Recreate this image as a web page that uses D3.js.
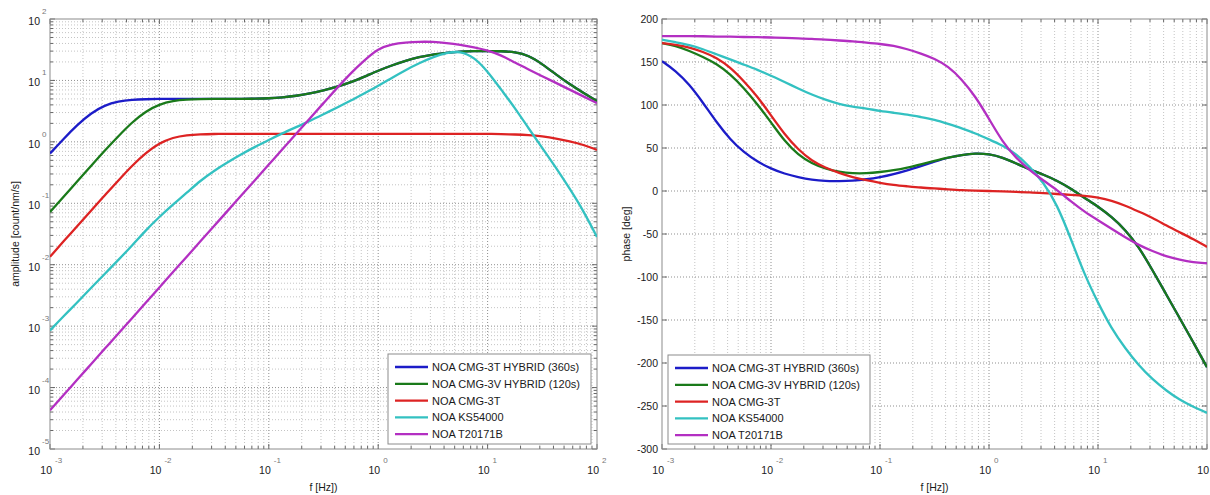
<!DOCTYPE html>
<meta charset="utf-8">
<style>
  body { margin: 0; background: #fff; }
  svg { display: block; font-family: "Liberation Sans", Arial, sans-serif; }
  .frame { fill: none; stroke: #8c8c8c; stroke-width: 1; }
  .gmajor { stroke: #8f8f8f; stroke-width: 1; stroke-dasharray: 1,2; }
  .gminor { stroke: #c4c4c4; stroke-width: 1; stroke-dasharray: 1,2; }
  .tick { stroke: #666; stroke-width: 1; }
  .tl { font-size: 10.5px; fill: #1a1a1a; }
  .ex { font-size: 8px; fill: #777; }
  .title { font-size: 10.5px; fill: #1a1a1a; }
  .legtext { font-size: 11px; fill: #1a1a1a; }
  .curve { fill: none; stroke-width: 2.3; stroke-linejoin: round; }
</style>
<svg width="1210" height="495"></svg>
<script src="https://cdn.jsdelivr.net/npm/d3@7"></script>
<script>

// frequency grid (Hz), 1/8 decade steps
var freq = [0.001, 0.00133, 0.00178, 0.00237, 0.00316, 0.00422, 0.00562, 0.0075,
  0.01, 0.0133, 0.0178, 0.0237, 0.0316, 0.0422, 0.0562, 0.075,
  0.1, 0.133, 0.178, 0.237, 0.316, 0.422, 0.562, 0.75,
  1, 1.33, 1.78, 2.37, 3.16, 4.22, 5.62, 7.5,
  10, 13.3, 17.8, 23.7, 31.6, 42.2, 56.2, 75, 100];

var names = ["NOA CMG-3T HYBRID (360s)", "NOA CMG-3V HYBRID (120s)", "NOA CMG-3T", "NOA KS54000", "NOA T20171B"];
var colors = ["#1c1cc8", "#1a7a1a", "#dd2323", "#33c1c1", "#b32fc2"];

// amplitude [count/nm/s]
var ampBlue = [0.645, 1.12, 1.9, 2.94, 3.95, 4.58, 4.85, 4.95, 5.0, 5.0, 5.0, 5.0,
  5.0, 5.0, 5.0, 5.05, 5.1, 5.3, 5.6, 6.1, 6.9, 7.9, 9.3, 11.5, 14.5, 17.5, 21, 24, 26.5, 28, 29.5,
  30, 30, 30, 29, 25.5, 18.5, 12.5, 8.7, 6.3, 4.6];
var ampGreen = [0.072, 0.128, 0.228, 0.405, 0.72, 1.24, 2.08, 3.15, 4.1, 4.65, 4.88, 4.95,
  5.0, 5.0, 5.0, 5.05, 5.1, 5.3, 5.6, 6.1, 6.9, 7.9, 9.3, 11.5, 14.5, 17.5, 21, 24, 26.5, 28, 29.5,
  30, 30, 30, 29, 25.5, 18.5, 12.5, 8.7, 6.3, 4.6];
var ampRed = [0.0135, 0.024, 0.0427, 0.076, 0.134, 0.236, 0.41, 0.66, 0.955, 1.18, 1.29, 1.33, 1.345,
  1.35, 1.35, 1.35, 1.35, 1.35, 1.35, 1.35, 1.35, 1.35, 1.35, 1.35, 1.35, 1.35, 1.35, 1.35, 1.35, 1.35, 1.35, 1.35, 1.35,
  1.34, 1.32, 1.29, 1.23, 1.14, 1.02, 0.9, 0.74];
var ampCyan = [0.00085, 0.00145, 0.00245, 0.00417, 0.00708, 0.012, 0.0204, 0.0363, 0.0603, 0.0955,
  0.148, 0.234, 0.339, 0.468, 0.631, 0.832, 1.07, 1.38, 1.74, 2.19, 2.82, 3.63, 4.68, 6.17, 8.13,
  11.0, 14.8, 19.1, 24.0, 28.2, 30.2, 24.0, 14.1, 7.08, 3.55, 1.66, 0.794, 0.38, 0.174, 0.0759, 0.0282];
var ampMagenta = [4.27e-5, 7.59e-5, 1.35e-4, 2.40e-4, 4.27e-4, 7.59e-4, 1.35e-3, 2.40e-3, 4.27e-3, 7.59e-3,
  0.0135, 0.024, 0.0427, 0.0759, 0.135, 0.24, 0.427, 0.759, 1.35, 2.4,
  4.27, 7.59, 13.2, 21.4, 33.1, 38.9, 41.7, 42.7, 42.7, 40.7,
  38.0, 34.7, 30.9, 25.7, 19.5, 15.1, 11.7, 9.12, 7.08, 5.5, 4.27];

// phase [deg]
var phBlue = [151, 140, 124, 103, 80, 60, 45, 34, 26, 20, 16, 13, 11.5, 11.5, 12, 13.5, 16, 19.5, 24, 29, 34,
  39, 42, 44, 43, 39, 32, 25, 19, 12, 3, -8, -18, -30, -45, -65, -92, -120, -148, -176, -205];
var phGreen = [172, 169, 163, 156, 148, 136, 120, 101, 80, 58, 42, 32, 26, 22, 20.5, 20.5, 22, 24, 27, 31,
  35, 39, 42, 44, 43, 39, 32, 25, 19, 12, 3, -8, -18, -30, -45, -65, -92, -120, -148, -176, -205];
var phRed = [172, 170, 167, 162, 155, 144, 128, 110, 88, 66, 48, 35, 27, 21, 16, 12.5, 9.5, 7, 5.5, 4,
  3, 2, 1, 0.5, 0, -0.5, -1, -1.5, -2.5, -3.5, -4.5, -5.5, -7.5, -11, -17, -24, -31, -40, -48, -56, -65];
var phCyan = [176, 173, 170, 165, 159, 153, 147, 141, 134, 127, 119, 112, 106, 101, 98, 96, 93, 91, 89, 86,
  83, 78, 73, 67, 60, 53, 43, 28, 10, -16, -55, -97, -130, -160, -183, -203, -219, -232, -243, -251, -258];
var phMagenta = [180, 180, 180, 180, 179.5, 179.5, 179, 179, 178.5, 178, 177.5, 177, 176, 175, 174, 172.5, 171, 169, 165, 160,
  154, 145, 130, 110, 84, 57, 38, 24, 12, 1, -12, -24, -34, -44, -54, -63, -70, -76, -80, -83, -84];

var ampSeries = [ampBlue, ampGreen, ampRed, ampCyan, ampMagenta];
var phSeries = [phBlue, phGreen, phRed, phCyan, phMagenta];
var phTicks = [200, 150, 100, 50, 0, -50, -100, -150, -200, -250, -300];

var svg = d3.select("svg");
var defs = svg.append("defs");

function isDecade(v) {
  var l = Math.log10(v);
  return Math.abs(l - Math.round(l)) < 1e-6;
}

function panel(id, left, right, top, bottom, y, yIsLog, series, yTicks) {
  var g = svg.append("g");
  var x = d3.scaleLog().domain([1e-3, 1e2]).range([left, right]);

  defs.append("clipPath").attr("id", id)
    .append("rect").attr("x", left).attr("y", top)
    .attr("width", right - left).attr("height", bottom - top);

  // vertical grid
  x.ticks().forEach(function (v) {
    if (v <= 1e-3 || v >= 1e2) return;
    g.append("line").attr("class", isDecade(v) ? "gmajor" : "gminor")
      .attr("x1", x(v)).attr("x2", x(v)).attr("y1", top).attr("y2", bottom);
  });
  // horizontal grid
  yTicks.forEach(function (v) {
    var yy = y(v);
    if (Math.abs(yy - top) < 0.5 || Math.abs(yy - bottom) < 0.5) return;
    g.append("line").attr("class", (!yIsLog || isDecade(v)) ? "gmajor" : "gminor")
      .attr("x1", left).attr("x2", right).attr("y1", yy).attr("y2", yy);
  });

  // tick marks on all sides
  x.ticks().forEach(function (v) {
    var len = isDecade(v) ? 5 : 3, xx = x(v);
    g.append("line").attr("class", "tick").attr("x1", xx).attr("x2", xx).attr("y1", bottom).attr("y2", bottom - len);
    g.append("line").attr("class", "tick").attr("x1", xx).attr("x2", xx).attr("y1", top).attr("y2", top + len);
  });
  yTicks.forEach(function (v) {
    var len = (!yIsLog || isDecade(v)) ? 5 : 3, yy = y(v);
    g.append("line").attr("class", "tick").attr("x1", left).attr("x2", left + len).attr("y1", yy).attr("y2", yy);
    g.append("line").attr("class", "tick").attr("x1", right).attr("x2", right - len).attr("y1", yy).attr("y2", yy);
  });

  g.append("rect").attr("class", "frame")
    .attr("x", left).attr("y", top).attr("width", right - left).attr("height", bottom - top);

  // x tick labels 10^n
  x.ticks().filter(isDecade).forEach(function (v) {
    var xx = x(v), n = Math.round(Math.log10(v));
    g.append("text").attr("class", "tl").attr("x", xx + 2).attr("y", bottom + 25)
      .attr("text-anchor", "end").text("10");
    g.append("text").attr("class", "ex").attr("x", xx + 5).attr("y", bottom + 14).text(n);
  });

  // curves
  var line = d3.line()
    .x(function (d) { return x(d[0]); })
    .y(function (d) { return y(d[1]); })
    .curve(d3.curveBasis);

  g.append("g").attr("clip-path", "url(#" + id + ")")
    .selectAll("path").data(series).enter().append("path")
    .attr("class", "curve")
    .attr("stroke", function (d, i) { return colors[i]; })
    .attr("d", function (d) { return line(freq.map(function (f, k) { return [f, d[k]]; })); });

  g.append("text").attr("class", "title").attr("x", (left + right) / 2).attr("y", bottom + 42)
    .attr("text-anchor", "middle").text("f [Hz])");

  return g;
}

function legend(g, bx, by, bw, bh) {
  g.append("rect").attr("x", bx).attr("y", by).attr("width", bw).attr("height", bh)
    .attr("fill", "#fff").attr("stroke", "#8c8c8c");
  names.forEach(function (n, i) {
    var cy = by + 13 + i * 16.8;
    g.append("line").attr("x1", bx + 7).attr("x2", bx + 40).attr("y1", cy).attr("y2", cy)
      .attr("stroke", colors[i]).attr("stroke-width", 2.3);
    g.append("text").attr("class", "legtext").attr("x", bx + 44).attr("y", cy + 4).text(n);
  });
}

// amplitude panel
var yA = d3.scaleLog().domain([1e-5, 1e2]).range([449, 19]);
var gA = panel("clipA", 50, 597, 19, 449, yA, true, ampSeries, yA.ticks());
yA.ticks().filter(isDecade).forEach(function (v) {
  var yy = yA(v), n = Math.round(Math.log10(v));
  gA.append("text").attr("class", "tl").attr("x", 40).attr("y", yy + 6).attr("text-anchor", "end").text("10");
  gA.append("text").attr("class", "ex").attr("x", 42).attr("y", yy - 5).text(n);
});
gA.append("text").attr("class", "title")
  .attr("transform", "translate(19,234) rotate(-90)")
  .attr("text-anchor", "middle").text("amplitude [count/nm/s]");
legend(gA, 388, 354, 203, 90);

// phase panel
var yP = d3.scaleLinear().domain([-300, 200]).range([449, 19]);
var gP = panel("clipP", 662, 1207, 19, 449, yP, false, phSeries, phTicks);
phTicks.forEach(function (v) {
  gP.append("text").attr("class", "tl").attr("x", 658).attr("y", yP(v) + 4)
    .attr("text-anchor", "end").text(v);
});
gP.append("text").attr("class", "title")
  .attr("transform", "translate(630,234) rotate(-90)")
  .attr("text-anchor", "middle").text("phase [deg]");
legend(gP, 668, 355, 202, 89);

</script>
